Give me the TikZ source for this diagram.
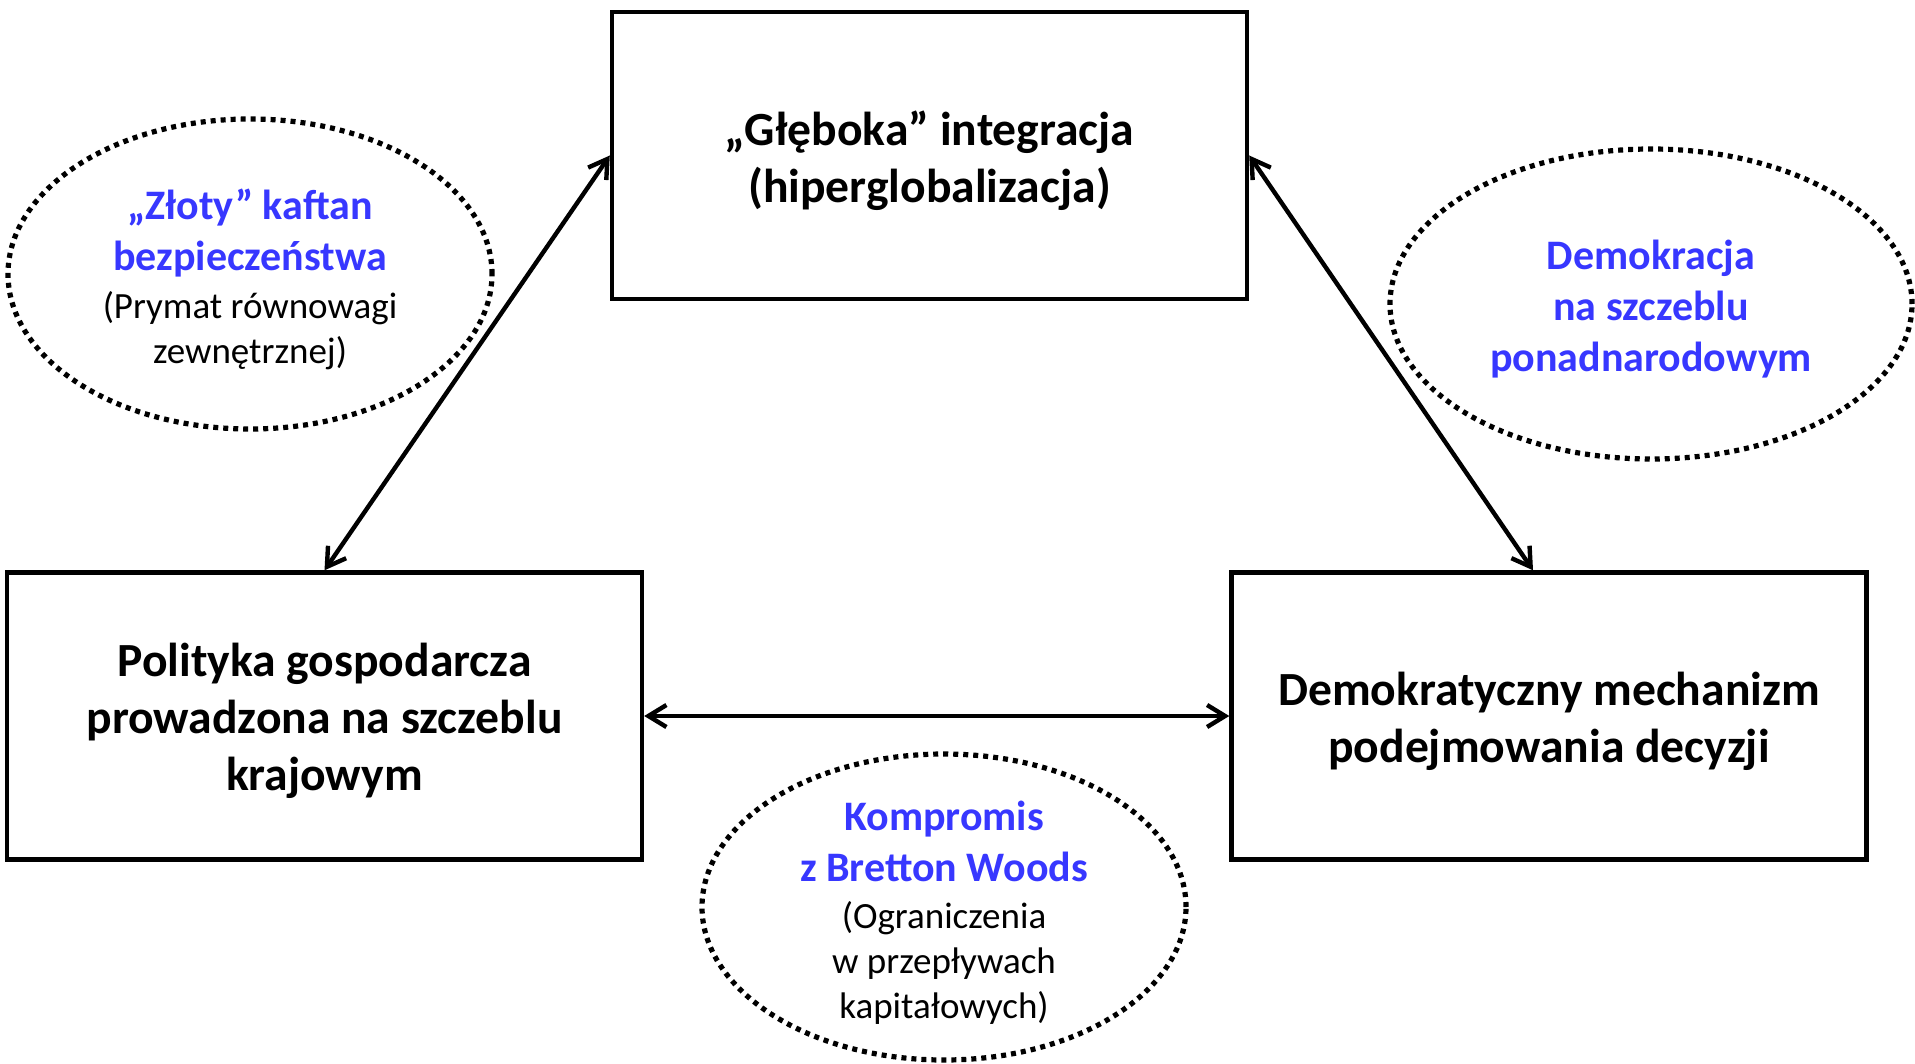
\documentclass[tikz,border=0pt]{standalone}
\usepackage{fontspec}
\setmainfont{Carlito}
\usepackage{tikz}
\usetikzlibrary{arrows.meta,shapes.geometric,positioning}
\definecolor{ttblue}{RGB}{55,55,255}
\newcommand{\hl}[1]{{\color{ttblue}\bfseries\fontsize{21}{25.5}\selectfont #1}}

\begin{document}
\begin{tikzpicture}[x=0.5pt, y=-0.5pt, inner sep=0pt]

    \tikzstyle{box}=[rectangle, draw=black, line width=2.2pt, minimum width=317.5pt, minimum height=143.5pt] \tikzstyle{boxtxt}=[align=center, font=\bfseries\fontsize{23.8}{28.5}\selectfont]
    \tikzstyle{bubble}=[ellipse, draw=black, line width=2.6pt, dash pattern=on 2.5pt off 2.5pt, minimum width=242pt, minimum height=155pt]
    \tikzstyle{txt}=[align=center, font=\fontsize{18.5}{22.5}\selectfont] \tikzstyle{link}=[{Straight Barb[length=9pt,width=11pt]}-{Straight Barb[length=9pt,width=11pt]}, line width=2.2pt]

    \useasboundingbox (0,0) rectangle (1915,1064);

    \node[box] (G) at (929.5,155.5) {};
    \node[box] (P) at (324.5,716) {};
    \node[box] (D) at (1549,716) {};
    \node[boxtxt] (Gt) at ([yshift=-2.5pt] G.center) {„Głęboka” integracja\\(hiperglobalizacja)};
    \node[boxtxt] (Pt) at ([yshift=-2.5pt] P.center) {Polityka gospodarcza\\prowadzona na szczeblu\\krajowym};
    \node[boxtxt] (Dt) at ([yshift=-2.5pt] D.center) {Demokratyczny mechanizm\\podejmowania decyzji};

    \node[bubble] (Z) at (250,274) {};
    \node[bubble, minimum width=261pt] (N) at (1651,304) {};
    \node[bubble, minimum height=153pt] (K) at (944,907) {};

    \node[txt] (Zt) at ([yshift=-2.5pt] Z.center) {\hl{„Złoty” kaftan}\\[3pt]\hl{bezpieczeństwa}\\[1.5pt](Prymat równowagi\\zewnętrznej)};
    \node[txt] (Nt) at ([yshift=-2.5pt] N.center) {\hl{Demokracja}\\[3pt]\hl{na szczeblu}\\[3pt]\hl{ponadnarodowym}};
    \node[txt] (Kt) at ([yshift=-3pt] K.center) {\hl{Kompromis}\\[3pt]\hl{z Bretton Woods}\\[1pt](Ograniczenia\\w przepływach\\kapitałowych)};

    \draw[link] (P.north) to (G.west);
    \draw[link] (G.east) to ([xshift=-8pt] D.north);
    \draw[link] (P.east) to (D.west);
\end{tikzpicture}
\end{document}
